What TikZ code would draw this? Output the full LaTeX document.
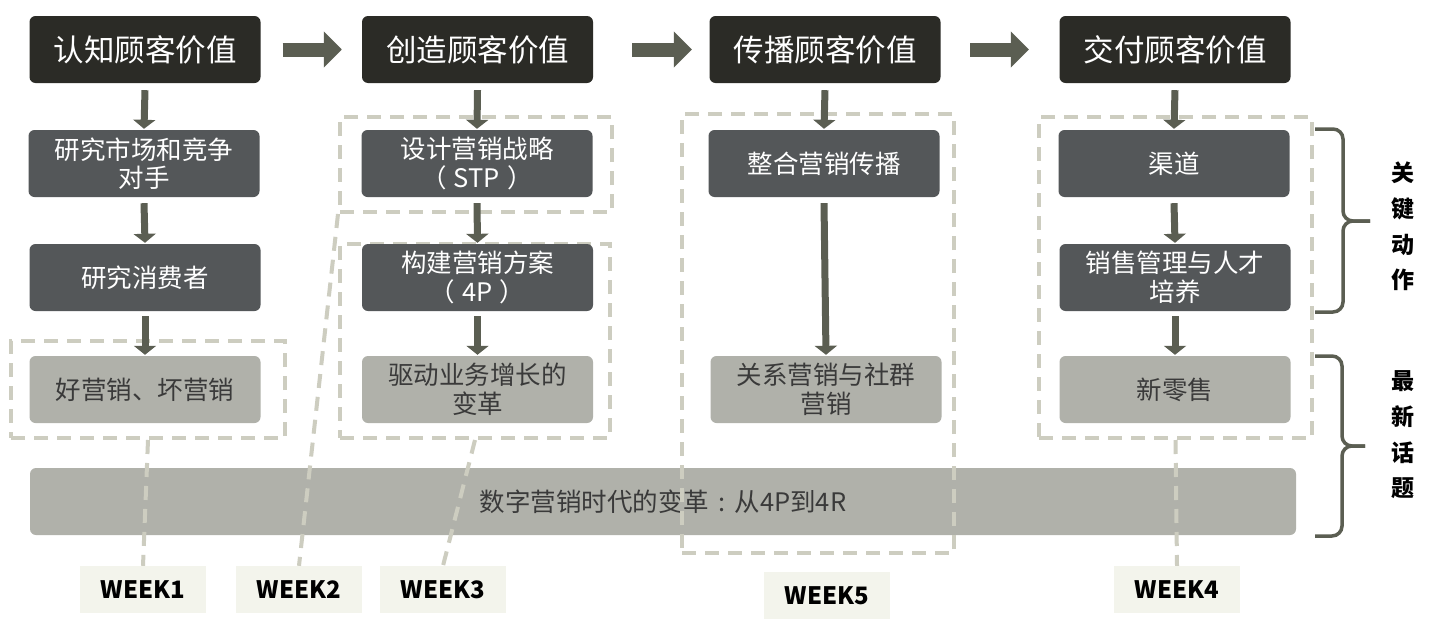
\documentclass[tikz,border=0pt]{standalone}
\usepackage{fontspec}
\setmainfont{Noto Sans CJK SC}
\usetikzlibrary{arrows.meta}
\definecolor{cTop}{RGB}{43,43,38}
\definecolor{cMid}{RGB}{84,87,89}
\definecolor{cLite}{RGB}{176,177,170}
\definecolor{cArr}{RGB}{91,94,82}
\definecolor{cDash}{RGB}{205,205,192}
\definecolor{cWeek}{RGB}{243,244,236}
\definecolor{cLiteText}{RGB}{58,58,58}
\begin{document}
\begin{tikzpicture}[x=1pt,y=-1pt,
  topbox/.style={fill=cTop, rounded corners=6pt, minimum width=231pt, minimum height=67pt, inner sep=0pt, text=white, font=\fontsize{30.5}{34}\selectfont},
  midbox/.style={fill=cMid, rounded corners=6pt, minimum width=231pt, minimum height=67pt, inner sep=0pt, text=white, align=center, font=\fontsize{25.5}{28.5}\selectfont},
  litebox/.style={fill=cLite, rounded corners=6pt, minimum width=231pt, minimum height=67pt, inner sep=0pt, text=cLiteText, align=center, font=\fontsize{25.5}{28.5}\selectfont},
  dframe/.style={draw=cDash, line width=4pt, dash pattern=on 14pt off 9pt, inner sep=0pt},
  dline/.style={draw=cDash, line width=4pt, dash pattern=on 14pt off 9pt},
  weekbox/.style={fill=cWeek, minimum width=126pt, minimum height=47pt, inner sep=0pt, text=black, font=\fontsize{24}{28}\selectfont\bfseries},
  sarrow/.style={draw=cArr, line width=7pt, -{Triangle[width=22pt,length=9pt]}},
  barrow/.style={draw=cArr, line width=14pt, -{Triangle[width=35pt,length=18pt]}},
  bracestyle/.style={draw=cArr, line width=3.5pt, rounded corners=10pt},
  sidelbl/.style={align=center, text=black, inner sep=0pt, font=\fontsize{23}{35.7}\selectfont\bfseries}
]
\useasboundingbox (0,0) rectangle (1432,632);
\fill[white] (0,0) rectangle (1432,632);

% bottom bar
\node[litebox, minimum width=1266pt] (bar) at (663,501.5) {数字营销时代的变革\hspace{0.36em}:\hspace{0.36em}从4P到4R};

% dashed frames
\node[dframe, minimum width=274pt, minimum height=97pt] (f1) at (148,389.5) {};
\node[dframe, minimum width=272pt, minimum height=95pt] (f2a) at (476,164.5) {};
\node[dframe, minimum width=270pt, minimum height=194pt] (f2b) at (475,341) {};
\node[dframe, minimum width=272pt, minimum height=439pt] (f3) at (818,333.5) {};
\node[dframe, minimum width=273pt, minimum height=321pt] (f4) at (1175.5,277.5) {};

% week labels
\node[weekbox] (wk1) at (143,589.5) {WEEK1};
\node[weekbox] (wk2) at (299,589.5) {WEEK2};
\node[weekbox] (wk3) at (443,589.5) {WEEK3};
\node[weekbox] (wk5) at (827,595.5) {WEEK5};
\node[weekbox] (wk4) at (1177,589.5) {WEEK4};

\draw[dline] (f1.south) -- (wk1.north);
\draw[dline] (f2a.south west) -- (wk2.north);
\draw[dline] (f2b.south) -- (wk3.north);
\draw[dline] (f4.south) -- (wk4.north);

% top boxes
\node[topbox] (t1) at (145,49.5) {认知顾客价值};
\node[topbox] (t2) at (477.5,49.5) {创造顾客价值};
\node[topbox] (t3) at (825,49.5) {传播顾客价值};
\node[topbox] (t4) at (1175,49.5) {交付顾客价值};

% row 2
\node[midbox] (a1) at (144,163.5) {研究市场和竞争\\对手};
\node[midbox] (a2) at (477,163.5) {设计营销战略\\（\hspace{7pt}STP\hspace{7pt}）};
\node[midbox] (a3) at (824,163.5) {整合营销传播};
\node[midbox] (a4) at (1174,163.5) {渠道};

% row 3
\node[midbox] (b1) at (145,277.5) {研究消费者};
\node[midbox] (b2) at (477.5,277.5) {构建营销方案\\（\hspace{7pt}4P\hspace{7pt}）};
\node[midbox] (b4) at (1175,277.5) {销售管理与人才\\培养};

% row 4
\node[litebox] (c1) at (145,389.5) {好营销、坏营销};
\node[litebox] (c2) at (477.5,389.5) {驱动业务增长的\\变革};
\node[litebox] (c3) at (826,389.5) {关系营销与社群\\营销};
\node[litebox] (c4) at (1175,389.5) {新零售};

% big arrows
\draw[barrow] ([xshift=22pt]t1.east) -- ([xshift=-20pt]t2.west);
\draw[barrow] ([xshift=39pt]t2.east) -- ([xshift=-17.5pt]t3.west);
\draw[barrow] ([xshift=29.5pt]t3.east) -- ([xshift=-30.5pt]t4.west);

% small arrows
\draw[sarrow] ([yshift=-7pt]t1.south) -- ([yshift=1pt]a1.north);
\draw[sarrow] ([yshift=-6pt]a1.south) -- ([yshift=1pt]b1.north);
\draw[sarrow] ([yshift=-5pt]b1.south) -- ([yshift=1pt]c1.north);
\draw[sarrow] ([yshift=-7pt]t2.south) -- ([yshift=1pt]a2.north);
\draw[sarrow] ([yshift=-6pt]a2.south) -- ([yshift=1pt]b2.north);
\draw[sarrow] ([yshift=-5pt]b2.south) -- ([yshift=1pt]c2.north);
\draw[sarrow] ([yshift=-7pt]t3.south) -- ([yshift=1pt]a3.north);
\draw[sarrow] ([yshift=-6pt]a3.south) -- ([yshift=1pt]c3.north);
\draw[sarrow] ([yshift=-7pt]t4.south) -- ([yshift=1pt]a4.north);
\draw[sarrow] ([yshift=-6pt]a4.south) -- ([yshift=1pt]b4.north);
\draw[sarrow] ([yshift=-5pt]b4.south) -- ([yshift=1pt]c4.north);

% braces
\draw[bracestyle] (1315,129) -- (1343,129) -- (1343,221) -- (1370,221);
\draw[bracestyle] (1315,312) -- (1343,312) -- (1343,221) -- (1370,221);
\draw[bracestyle] (1315,356) -- (1342,356) -- (1342,446) -- (1365,446);
\draw[bracestyle] (1315,536) -- (1342,536) -- (1342,446) -- (1365,446);

\node[sidelbl] (k1) at (1403,226.5) {关\\键\\动\\作};
\node[sidelbl] (k2) at (1403,435) {最\\新\\话\\题};
\end{tikzpicture}
\end{document}
